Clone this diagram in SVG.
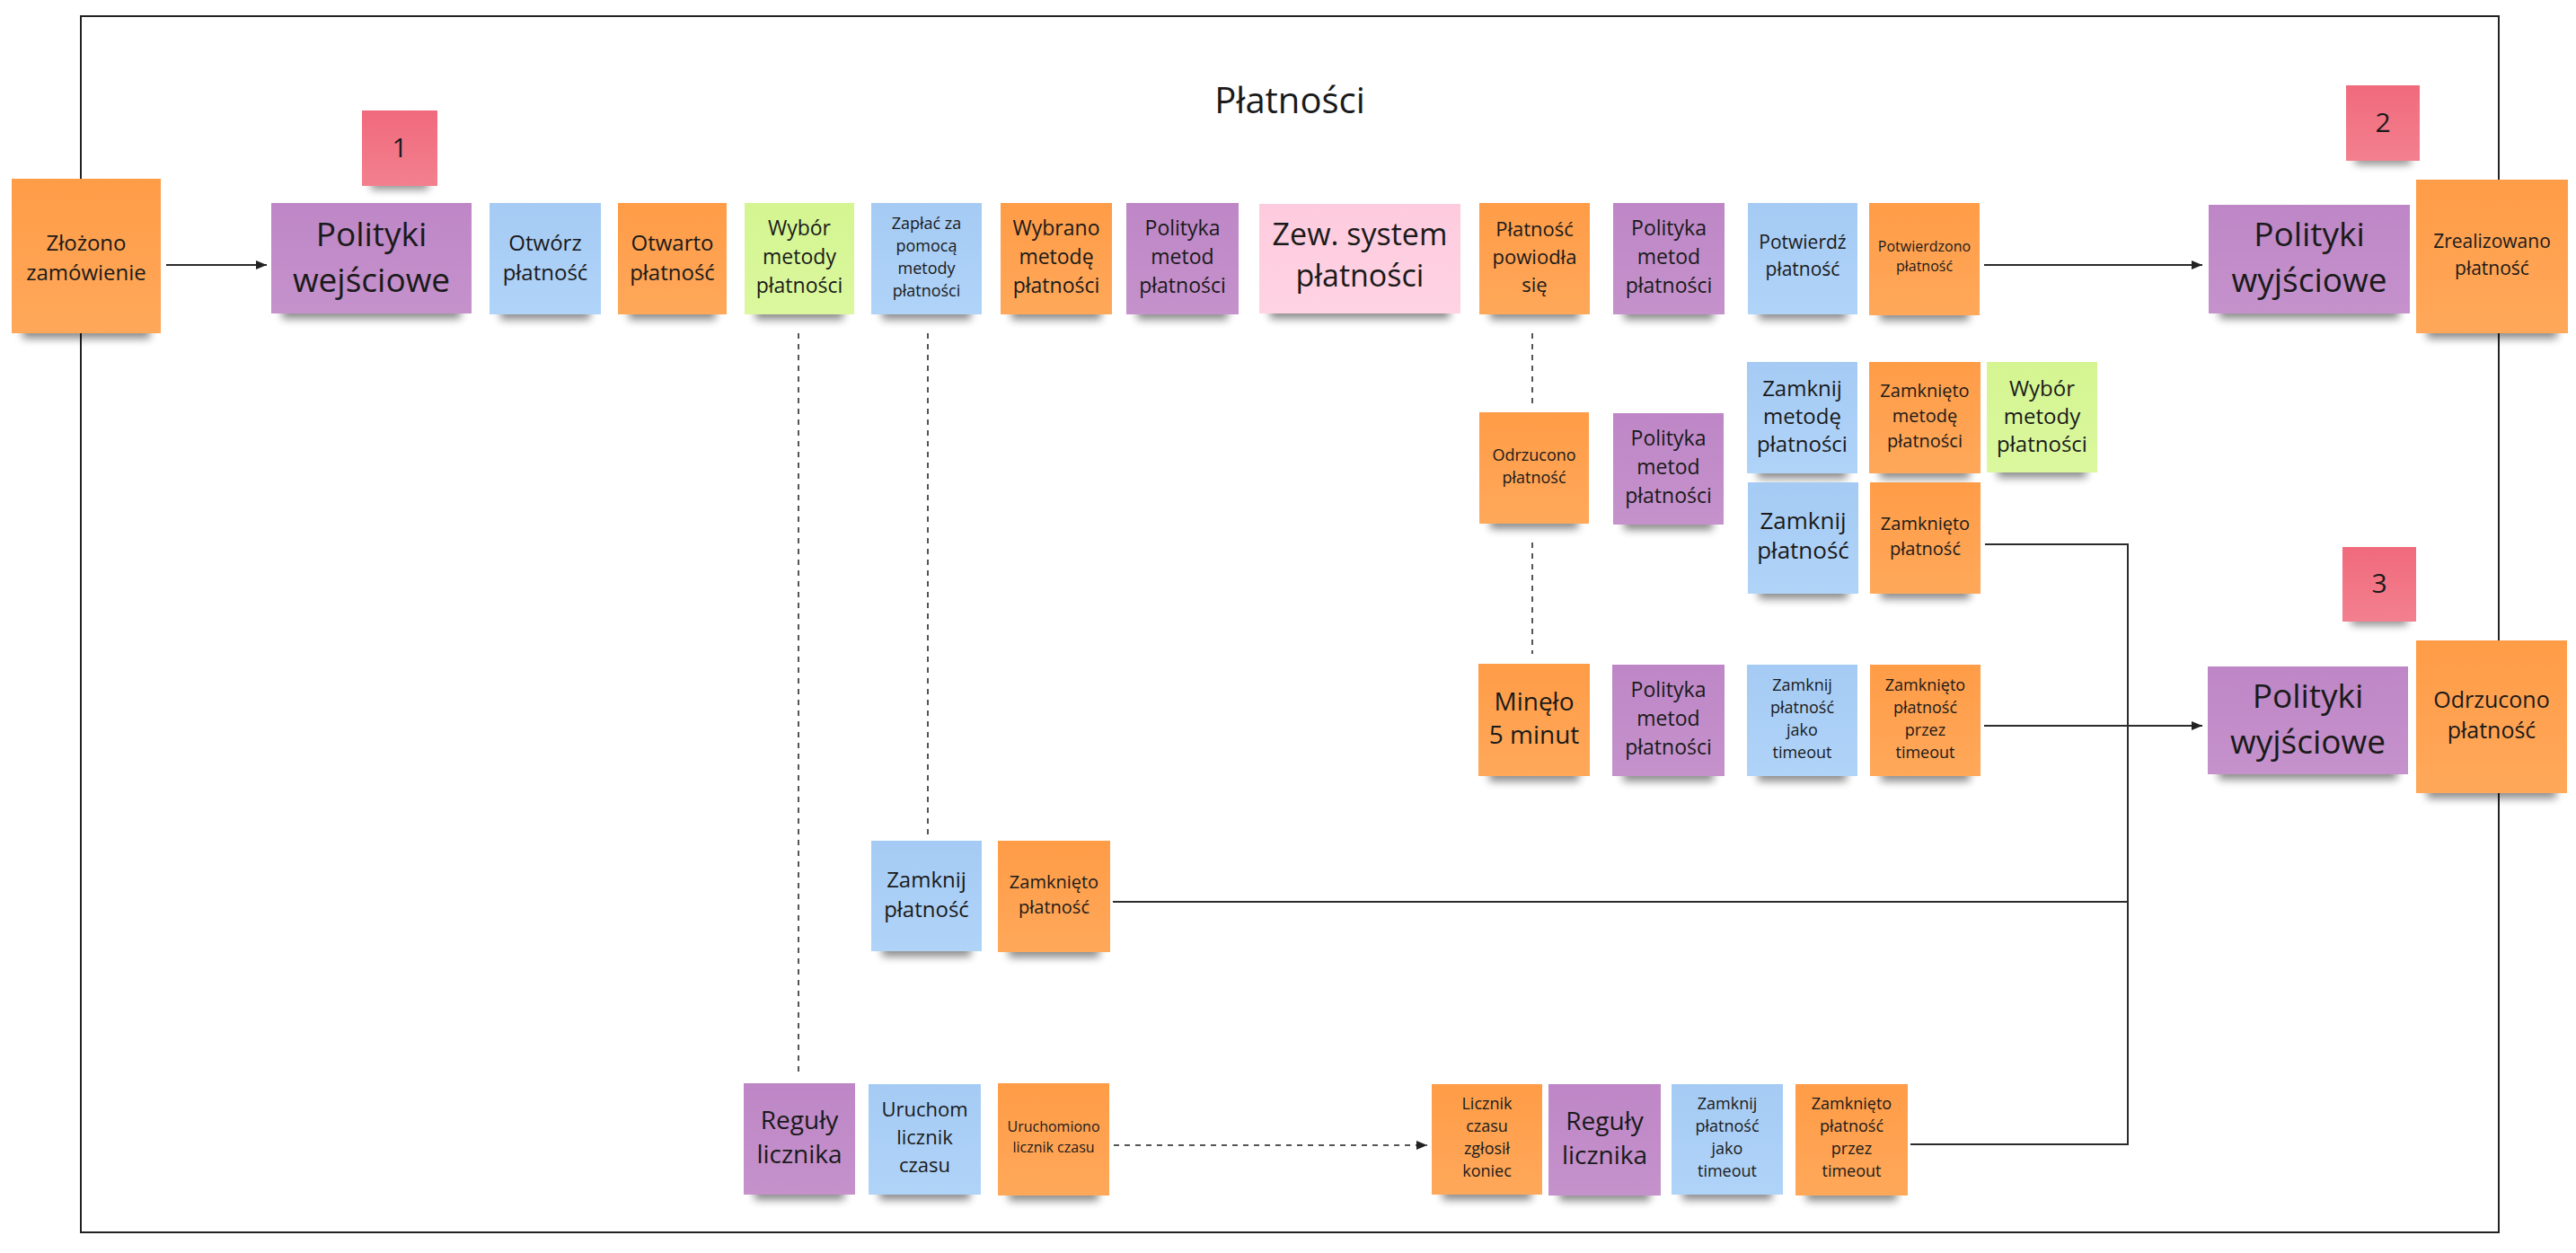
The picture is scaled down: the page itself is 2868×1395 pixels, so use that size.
<svg xmlns="http://www.w3.org/2000/svg" width="2868" height="1395" viewBox="0 0 2868 1395">
<defs>
<linearGradient id="gO" x1="0" y1="0" x2="0" y2="1"><stop offset="0" stop-color="#FF9C47"/><stop offset="1" stop-color="#FFA85A"/></linearGradient>
<linearGradient id="gP" x1="0" y1="0" x2="0" y2="1"><stop offset="0" stop-color="#BE86C6"/><stop offset="1" stop-color="#C592CC"/></linearGradient>
<linearGradient id="gB" x1="0" y1="0" x2="0" y2="1"><stop offset="0" stop-color="#A5CBF4"/><stop offset="1" stop-color="#B0D3F8"/></linearGradient>
<linearGradient id="gG" x1="0" y1="0" x2="0" y2="1"><stop offset="0" stop-color="#D4F591"/><stop offset="1" stop-color="#DBF89E"/></linearGradient>
<linearGradient id="gK" x1="0" y1="0" x2="0" y2="1"><stop offset="0" stop-color="#FECBDE"/><stop offset="1" stop-color="#FFD3E3"/></linearGradient>
<linearGradient id="gR" x1="0" y1="0" x2="0" y2="1"><stop offset="0" stop-color="#F06A7C"/><stop offset="1" stop-color="#F3808F"/></linearGradient>
<filter id="blur" x="-20%" y="-100%" width="140%" height="300%"><feGaussianBlur stdDeviation="5"/></filter>
<marker id="arr" viewBox="0 0 12 10" refX="12" refY="5" markerWidth="12" markerHeight="10" markerUnits="userSpaceOnUse" orient="auto"><path d="M0,0 L12,5 L0,10 Z" fill="#222"/></marker>
</defs>
<style>
text{font-family:"Open Sans","Noto Sans","DejaVu Sans",sans-serif;fill:#1a1a1a;text-anchor:middle;dominant-baseline:central}
.sh{fill:#000;opacity:.45;filter:url(#blur)}
.o{fill:url(#gO)}.p{fill:url(#gP)}.b{fill:url(#gB)}.g{fill:url(#gG)}.k{fill:url(#gK)}.r{fill:url(#gR)}
.ln{fill:none;stroke:#2b2b2b;stroke-width:2}
.dot{fill:none;stroke:#555;stroke-width:2;stroke-dasharray:6 6}
.frame{fill:none;stroke:#222;stroke-width:2}
</style>
<rect width="2868" height="1395" fill="#fff"/>
<rect class="frame" x="90" y="18" width="2692" height="1354"/>
<text x="1436" y="110" font-size="40">Płatności</text>

<g id="connectors">
<path class="ln" d="M185,295 H297" marker-end="url(#arr)"/>
<path class="ln" d="M2209,295 H2452" marker-end="url(#arr)"/>
<path class="dot" d="M889,371 V1198"/>
<path class="dot" d="M1033,371 V929"/>
<path class="dot" d="M1706,371 V452"/>
<path class="dot" d="M1706,604 V728"/>
<path class="dot" d="M1240,1275 H1589" marker-end="url(#arr)"/>
<path class="ln" d="M2210,606 H2369 V808"/>
<path class="ln" d="M1239,1004 H2369 V808"/>
<path class="ln" d="M2127,1274 H2369 V808"/>
<path class="ln" d="M2209,808 H2452" marker-end="url(#arr)"/>
</g>

<g id="n-zlozono"><rect class="sh" x="25" y="361" width="142" height="16"/><rect class="o" x="13" y="199" width="166" height="172"/><text font-size="24"><tspan x="96" y="268.5">Złożono</tspan><tspan x="96" y="301.5">zamówienie</tspan></text></g>
<g id="n-s1"><rect class="sh" x="413" y="199" width="64" height="12"/><rect class="r" x="403" y="123" width="84" height="84"/><text x="445" y="163" font-size="30">1</text></g>
<g id="n-polwej"><rect class="sh" x="314" y="339" width="199" height="16"/><rect class="p" x="302" y="226" width="223" height="123"/><text font-size="37"><tspan x="413.5" y="259">Polityki</tspan><tspan x="413.5" y="310">wejściowe</tspan></text></g>
<g id="n-otworz"><rect class="sh" x="557" y="340" width="100" height="16"/><rect class="b" x="545" y="226" width="124" height="124"/><text font-size="24"><tspan x="607" y="268.5">Otwórz</tspan><tspan x="607" y="301.5">płatność</tspan></text></g>
<g id="n-otwarto"><rect class="sh" x="700" y="340" width="97" height="16"/><rect class="o" x="688" y="226" width="121" height="124"/><text font-size="24"><tspan x="748.5" y="268.5">Otwarto</tspan><tspan x="748.5" y="301.5">płatność</tspan></text></g>
<g id="n-wybor1"><rect class="sh" x="841" y="340" width="98" height="16"/><rect class="g" x="829" y="226" width="122" height="124"/><text font-size="23"><tspan x="890" y="253">Wybór</tspan><tspan x="890" y="285">metody</tspan><tspan x="890" y="317">płatności</tspan></text></g>
<g id="n-zaplac"><rect class="sh" x="982" y="340" width="99" height="16"/><rect class="b" x="970" y="226" width="123" height="124"/><text font-size="18"><tspan x="1031.5" y="247.5">Zapłać za</tspan><tspan x="1031.5" y="272.5">pomocą</tspan><tspan x="1031.5" y="297.5">metody</tspan><tspan x="1031.5" y="322.5">płatności</tspan></text></g>
<g id="n-wybrano"><rect class="sh" x="1126" y="340" width="100" height="16"/><rect class="o" x="1114" y="226" width="124" height="124"/><text font-size="23"><tspan x="1176" y="253">Wybrano</tspan><tspan x="1176" y="285">metodę</tspan><tspan x="1176" y="317">płatności</tspan></text></g>
<g id="n-polmet1"><rect class="sh" x="1266" y="340" width="101" height="16"/><rect class="p" x="1254" y="226" width="125" height="124"/><text font-size="23"><tspan x="1316.5" y="253">Polityka</tspan><tspan x="1316.5" y="285">metod</tspan><tspan x="1316.5" y="317">płatności</tspan></text></g>
<g id="n-zew"><rect class="sh" x="1414" y="339" width="200" height="16"/><rect class="k" x="1402" y="227" width="224" height="122"/><text font-size="34"><tspan x="1514" y="260">Zew. system</tspan><tspan x="1514" y="306">płatności</tspan></text></g>
<g id="n-powiodla"><rect class="sh" x="1659" y="340" width="99" height="16"/><rect class="o" x="1647" y="226" width="123" height="124"/><text font-size="22"><tspan x="1708.5" y="254">Płatność</tspan><tspan x="1708.5" y="285">powiodła</tspan><tspan x="1708.5" y="316">się</tspan></text></g>
<g id="n-polmet2"><rect class="sh" x="1808" y="340" width="100" height="16"/><rect class="p" x="1796" y="226" width="124" height="124"/><text font-size="23"><tspan x="1858" y="253">Polityka</tspan><tspan x="1858" y="285">metod</tspan><tspan x="1858" y="317">płatności</tspan></text></g>
<g id="n-potwierdz"><rect class="sh" x="1958" y="340" width="98" height="16"/><rect class="b" x="1946" y="226" width="122" height="124"/><text font-size="21"><tspan x="2007" y="269">Potwierdź</tspan><tspan x="2007" y="299">płatność</tspan></text></g>
<g id="n-potwierdzono"><rect class="sh" x="2093" y="341" width="99" height="16"/><rect class="o" x="2081" y="226" width="123" height="125"/><text font-size="16"><tspan x="2142.5" y="274">Potwierdzono</tspan><tspan x="2142.5" y="296">płatność</tspan></text></g>
<g id="n-polwyj1"><rect class="sh" x="2471" y="339" width="200" height="16"/><rect class="p" x="2459" y="228" width="224" height="121"/><text font-size="37"><tspan x="2571" y="259">Polityki</tspan><tspan x="2571" y="310">wyjściowe</tspan></text></g>
<g id="n-s2"><rect class="sh" x="2622" y="171" width="62" height="12"/><rect class="r" x="2612" y="95" width="82" height="84"/><text x="2653" y="135" font-size="30">2</text></g>
<g id="n-zrealizowano"><rect class="sh" x="2702" y="361" width="145" height="16"/><rect class="o" x="2690" y="200" width="169" height="171"/><text font-size="21"><tspan x="2774.5" y="267.5">Zrealizowano</tspan><tspan x="2774.5" y="297.5">płatność</tspan></text></g>

<g id="n-odrzucono1"><rect class="sh" x="1659" y="573" width="98" height="16"/><rect class="o" x="1647" y="459" width="122" height="124"/><text font-size="18"><tspan x="1708" y="506">Odrzucono</tspan><tspan x="1708" y="531">płatność</tspan></text></g>
<g id="n-polmet3"><rect class="sh" x="1808" y="574" width="99" height="16"/><rect class="p" x="1796" y="460" width="123" height="124"/><text font-size="23"><tspan x="1857.5" y="487">Polityka</tspan><tspan x="1857.5" y="519">metod</tspan><tspan x="1857.5" y="551">płatności</tspan></text></g>
<g id="n-zamknijmet"><rect class="sh" x="1957" y="517" width="99" height="16"/><rect class="b" x="1945" y="403" width="123" height="124"/><text font-size="24"><tspan x="2006.5" y="431">Zamknij</tspan><tspan x="2006.5" y="462">metodę</tspan><tspan x="2006.5" y="493">płatności</tspan></text></g>
<g id="n-zamknietomet"><rect class="sh" x="2093" y="517" width="100" height="16"/><rect class="o" x="2081" y="403" width="124" height="124"/><text font-size="20"><tspan x="2143" y="434">Zamknięto</tspan><tspan x="2143" y="462">metodę</tspan><tspan x="2143" y="490">płatności</tspan></text></g>
<g id="n-wybor2"><rect class="sh" x="2224" y="516" width="99" height="16"/><rect class="g" x="2212" y="403" width="123" height="123"/><text font-size="24"><tspan x="2273.5" y="430.5">Wybór</tspan><tspan x="2273.5" y="461.5">metody</tspan><tspan x="2273.5" y="492.5">płatności</tspan></text></g>
<g id="n-zamknij1"><rect class="sh" x="1958" y="651" width="99" height="16"/><rect class="b" x="1946" y="537" width="123" height="124"/><text font-size="26"><tspan x="2007.5" y="579">Zamknij</tspan><tspan x="2007.5" y="612">płatność</tspan></text></g>
<g id="n-zamkniete1"><rect class="sh" x="2094" y="651" width="99" height="16"/><rect class="o" x="2082" y="537" width="123" height="124"/><text font-size="20"><tspan x="2143.5" y="582">Zamknięto</tspan><tspan x="2143.5" y="610">płatność</tspan></text></g>

<g id="n-minelo"><rect class="sh" x="1658" y="854" width="100" height="16"/><rect class="o" x="1646" y="739" width="124" height="125"/><text font-size="28"><tspan x="1708" y="780">Minęło</tspan><tspan x="1708" y="817">5 minut</tspan></text></g>
<g id="n-polmet4"><rect class="sh" x="1807" y="854" width="101" height="16"/><rect class="p" x="1795" y="740" width="125" height="124"/><text font-size="23"><tspan x="1857.5" y="767">Polityka</tspan><tspan x="1857.5" y="799">metod</tspan><tspan x="1857.5" y="831">płatności</tspan></text></g>
<g id="n-zamknijto1"><rect class="sh" x="1957" y="854" width="99" height="16"/><rect class="b" x="1945" y="740" width="123" height="124"/><text font-size="18"><tspan x="2006.5" y="761.5">Zamknij</tspan><tspan x="2006.5" y="786.5">płatność</tspan><tspan x="2006.5" y="811.5">jako</tspan><tspan x="2006.5" y="836.5">timeout</tspan></text></g>
<g id="n-zamknietoto1"><rect class="sh" x="2094" y="854" width="99" height="16"/><rect class="o" x="2082" y="740" width="123" height="124"/><text font-size="18"><tspan x="2143.5" y="761.5">Zamknięto</tspan><tspan x="2143.5" y="786.5">płatność</tspan><tspan x="2143.5" y="811.5">przez</tspan><tspan x="2143.5" y="836.5">timeout</tspan></text></g>
<g id="n-s3"><rect class="sh" x="2618" y="684" width="62" height="12"/><rect class="r" x="2608" y="609" width="82" height="83"/><text x="2649" y="648" font-size="30">3</text></g>
<g id="n-polwyj2"><rect class="sh" x="2470" y="852" width="199" height="16"/><rect class="p" x="2458" y="742" width="223" height="120"/><text font-size="37"><tspan x="2569.5" y="773">Polityki</tspan><tspan x="2569.5" y="824">wyjściowe</tspan></text></g>
<g id="n-odrzucono2"><rect class="sh" x="2702" y="873" width="144" height="16"/><rect class="o" x="2690" y="713" width="168" height="170"/><text font-size="25"><tspan x="2774" y="778">Odrzucono</tspan><tspan x="2774" y="812">płatność</tspan></text></g>

<g id="n-zamknij2"><rect class="sh" x="982" y="1049" width="99" height="16"/><rect class="b" x="970" y="936" width="123" height="123"/><text font-size="24"><tspan x="1031.5" y="978">Zamknij</tspan><tspan x="1031.5" y="1011">płatność</tspan></text></g>
<g id="n-zamkniete2"><rect class="sh" x="1123" y="1050" width="101" height="16"/><rect class="o" x="1111" y="936" width="125" height="124"/><text font-size="20"><tspan x="1173.5" y="981">Zamknięto</tspan><tspan x="1173.5" y="1009">płatność</tspan></text></g>

<g id="n-reguly1"><rect class="sh" x="840" y="1320" width="100" height="16"/><rect class="p" x="828" y="1206" width="124" height="124"/><text font-size="28"><tspan x="890" y="1246">Reguły</tspan><tspan x="890" y="1284">licznika</tspan></text></g>
<g id="n-uruchom"><rect class="sh" x="979" y="1320" width="101" height="16"/><rect class="b" x="967" y="1207" width="125" height="123"/><text font-size="22"><tspan x="1029.5" y="1234">Uruchom</tspan><tspan x="1029.5" y="1265">licznik</tspan><tspan x="1029.5" y="1296">czasu</tspan></text></g>
<g id="n-uruchomiono"><rect class="sh" x="1123" y="1321" width="100" height="16"/><rect class="o" x="1111" y="1206" width="124" height="125"/><text font-size="16"><tspan x="1173" y="1254">Uruchomiono</tspan><tspan x="1173" y="1277">licznik czasu</tspan></text></g>
<g id="n-licznik"><rect class="sh" x="1606" y="1320" width="99" height="16"/><rect class="o" x="1594" y="1207" width="123" height="123"/><text font-size="18"><tspan x="1655.5" y="1228">Licznik</tspan><tspan x="1655.5" y="1253">czasu</tspan><tspan x="1655.5" y="1278">zgłosił</tspan><tspan x="1655.5" y="1303">koniec</tspan></text></g>
<g id="n-reguly2"><rect class="sh" x="1736" y="1321" width="101" height="16"/><rect class="p" x="1724" y="1207" width="125" height="124"/><text font-size="28"><tspan x="1786.5" y="1247">Reguły</tspan><tspan x="1786.5" y="1285">licznika</tspan></text></g>
<g id="n-zamknijto2"><rect class="sh" x="1873" y="1320" width="100" height="16"/><rect class="b" x="1861" y="1207" width="124" height="123"/><text font-size="18"><tspan x="1923" y="1228">Zamknij</tspan><tspan x="1923" y="1253">płatność</tspan><tspan x="1923" y="1278">jako</tspan><tspan x="1923" y="1303">timeout</tspan></text></g>
<g id="n-zamknietoto2"><rect class="sh" x="2011" y="1321" width="101" height="16"/><rect class="o" x="1999" y="1207" width="125" height="124"/><text font-size="18"><tspan x="2061.5" y="1228">Zamknięto</tspan><tspan x="2061.5" y="1253">płatność</tspan><tspan x="2061.5" y="1278">przez</tspan><tspan x="2061.5" y="1303">timeout</tspan></text></g>
</svg>
